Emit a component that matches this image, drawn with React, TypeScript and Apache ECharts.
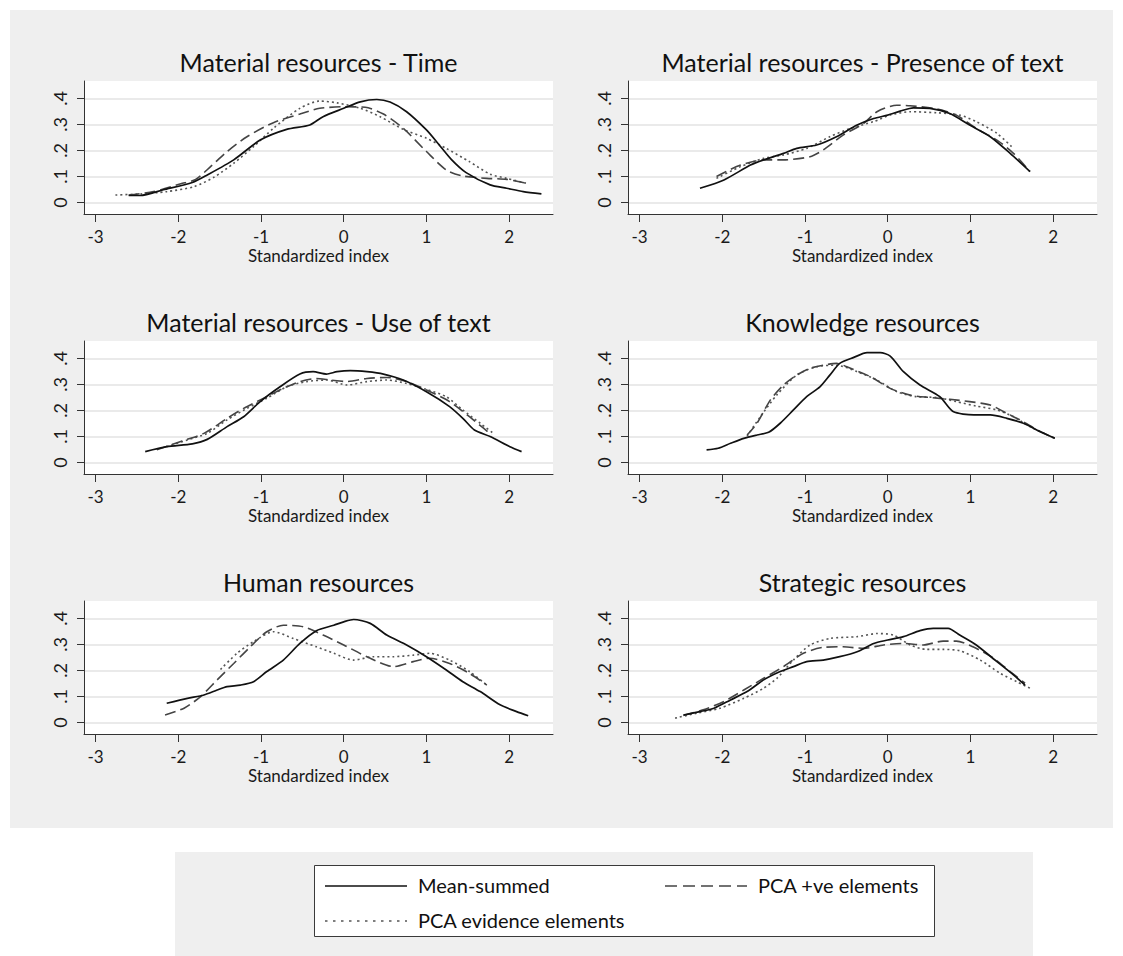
import React, { useEffect, useRef } from "react";
import * as echarts from "echarts";

// Panel titles, in reading order (left-to-right, top-to-bottom)
const panelTitles = [
  "Material resources - Time",
  "Material resources - Presence of text",
  "Material resources - Use of text",
  "Knowledge resources",
  "Human resources",
  "Strategic resources",
];

const xTicks = [-3, -2, -1, 0, 1, 2];
const yTicks = [0, 0.1, 0.2, 0.3, 0.4];
const yTickLabels = ["0", ".1", ".2", ".3", ".4"];
const xAxisTitle = "Standardized index";
const seriesNames = ["Mean-summed", "PCA +ve elements", "PCA evidence elements"];

// Kernel density estimates: [standardized index, density]
const timeMean = [[-2.6, 0.027], [-2.46, 0.027], [-2.18, 0.049], [-1.83, 0.077], [-1.65, 0.106], [-1.33, 0.164], [-1.01, 0.24], [-0.69, 0.281], [-0.41, 0.298], [-0.25, 0.33], [0, 0.362], [0.2, 0.387], [0.4, 0.396], [0.56, 0.386], [0.76, 0.349], [1.0, 0.279], [1.14, 0.227], [1.3, 0.166], [1.48, 0.115], [1.77, 0.068], [1.97, 0.055], [2.17, 0.042], [2.39, 0.033]];
const timePcaPos = [[-2.6, 0.029], [-2.3, 0.042], [-1.97, 0.072], [-1.79, 0.089], [-1.61, 0.138], [-1.41, 0.196], [-1.17, 0.253], [-0.85, 0.307], [-0.53, 0.34], [-0.29, 0.362], [0, 0.368], [0.26, 0.366], [0.48, 0.34], [0.72, 0.285], [1.0, 0.196], [1.24, 0.125], [1.44, 0.102], [1.73, 0.093], [1.97, 0.089], [2.21, 0.074]];
const timePcaEv = [[-2.76, 0.029], [-2.46, 0.033], [-2.14, 0.042], [-1.81, 0.061], [-1.57, 0.097], [-1.33, 0.151], [-1.09, 0.215], [-0.85, 0.285], [-0.53, 0.362], [-0.29, 0.39], [-0.08, 0.383], [0.2, 0.362], [0.44, 0.33], [0.72, 0.281], [1.0, 0.247], [1.24, 0.208], [1.52, 0.157], [1.77, 0.109], [1.97, 0.093], [2.21, 0.074]];

const presenceMean = [[-2.27, 0.055], [-1.98, 0.087], [-1.66, 0.144], [-1.5, 0.164], [-1.26, 0.189], [-1.1, 0.208], [-0.86, 0.221], [-0.62, 0.253], [-0.37, 0.298], [-0.17, 0.323], [0, 0.336], [0.15, 0.351], [0.31, 0.364], [0.51, 0.362], [0.75, 0.342], [0.99, 0.298], [1.24, 0.253], [1.48, 0.189], [1.72, 0.119]];
const presencePcaPos = [[-2.07, 0.1], [-1.78, 0.144], [-1.5, 0.164], [-1.26, 0.164], [-0.94, 0.176], [-0.78, 0.202], [-0.54, 0.259], [-0.29, 0.304], [-0.13, 0.349], [0.11, 0.374], [0.27, 0.372], [0.59, 0.36], [0.83, 0.336], [1.07, 0.285], [1.32, 0.24], [1.52, 0.189], [1.72, 0.119]];
const presencePcaEv = [[-2.07, 0.093], [-1.78, 0.138], [-1.5, 0.17], [-1.26, 0.183], [-0.98, 0.208], [-0.7, 0.253], [-0.45, 0.285], [-0.17, 0.311], [0.03, 0.336], [0.27, 0.349], [0.59, 0.345], [0.87, 0.336], [1.07, 0.311], [1.32, 0.266], [1.52, 0.208]];

const useMean = [[-2.4, 0.042], [-2.14, 0.061], [-1.83, 0.072], [-1.65, 0.089], [-1.41, 0.138], [-1.21, 0.176], [-1.01, 0.234], [-0.77, 0.291], [-0.53, 0.34], [-0.37, 0.349], [-0.21, 0.34], [-0.08, 0.349], [0.08, 0.353], [0.28, 0.349], [0.48, 0.34], [0.72, 0.317], [1.0, 0.272], [1.28, 0.215], [1.44, 0.17], [1.58, 0.125], [1.77, 0.1], [2.01, 0.061], [2.15, 0.042]];
const usePcaPos = [[-2.26, 0.049], [-1.97, 0.081], [-1.69, 0.112], [-1.41, 0.17], [-1.21, 0.208], [-0.93, 0.253], [-0.73, 0.285], [-0.53, 0.311], [-0.33, 0.323], [-0.16, 0.317], [0.04, 0.311], [0.28, 0.323], [0.52, 0.327], [0.76, 0.311], [1.0, 0.279], [1.28, 0.234], [1.52, 0.176], [1.69, 0.132], [1.79, 0.106]];
const usePcaEv = [[-2.14, 0.061], [-1.89, 0.087], [-1.65, 0.112], [-1.41, 0.164], [-1.17, 0.208], [-0.93, 0.247], [-0.69, 0.291], [-0.45, 0.311], [-0.2, 0.317], [0.04, 0.298], [0.28, 0.311], [0.52, 0.317], [0.76, 0.304], [1.0, 0.281], [1.24, 0.253], [1.44, 0.202], [1.65, 0.151], [1.81, 0.112]];

const knowMean = [[-2.19, 0.049], [-2.05, 0.055], [-1.9, 0.074], [-1.74, 0.093], [-1.58, 0.106], [-1.44, 0.116], [-1.3, 0.151], [-1.14, 0.202], [-0.98, 0.253], [-0.82, 0.291], [-0.7, 0.336], [-0.58, 0.381], [-0.41, 0.404], [-0.25, 0.422], [-0.09, 0.422], [0.03, 0.409], [0.19, 0.349], [0.39, 0.298], [0.63, 0.253], [0.79, 0.196], [1.04, 0.183], [1.24, 0.183], [1.44, 0.17], [1.64, 0.151], [1.84, 0.119], [2.02, 0.093]];
const knowPcaPos = [[-1.7, 0.106], [-1.58, 0.151], [-1.42, 0.24], [-1.26, 0.298], [-1.1, 0.336], [-0.94, 0.362], [-0.78, 0.374], [-0.62, 0.381], [-0.45, 0.362], [-0.21, 0.33], [0.03, 0.285], [0.27, 0.259], [0.51, 0.25], [0.75, 0.243], [0.99, 0.234], [1.24, 0.221], [1.44, 0.189], [1.64, 0.157], [1.84, 0.119], [2.02, 0.093]];
const knowPcaEv = [[-1.7, 0.102], [-1.54, 0.176], [-1.34, 0.26], [-1.1, 0.336], [-0.86, 0.368], [-0.62, 0.374], [-0.37, 0.349], [-0.13, 0.317], [0.11, 0.272], [0.35, 0.253], [0.59, 0.25], [0.83, 0.234], [1.07, 0.217], [1.32, 0.202], [1.52, 0.176], [1.72, 0.138], [2.02, 0.093]];

const humanMean = [[-2.14, 0.074], [-1.89, 0.093], [-1.69, 0.106], [-1.53, 0.125], [-1.41, 0.138], [-1.25, 0.144], [-1.09, 0.157], [-0.93, 0.196], [-0.73, 0.24], [-0.53, 0.304], [-0.33, 0.353], [-0.12, 0.374], [0, 0.387], [0.12, 0.396], [0.32, 0.381], [0.52, 0.336], [0.76, 0.298], [1.0, 0.253], [1.24, 0.202], [1.44, 0.157], [1.65, 0.119], [1.89, 0.068], [2.09, 0.042], [2.23, 0.026]];
const humanPcaPos = [[-2.16, 0.029], [-1.93, 0.055], [-1.73, 0.1], [-1.53, 0.164], [-1.33, 0.227], [-1.13, 0.291], [-0.93, 0.349], [-0.73, 0.374], [-0.49, 0.368], [-0.25, 0.336], [0, 0.298], [0.28, 0.253], [0.6, 0.215], [0.84, 0.234], [1.04, 0.247], [1.28, 0.227], [1.52, 0.189], [1.73, 0.144]];
const humanPcaEv = [[-1.49, 0.204], [-1.29, 0.266], [-1.09, 0.311], [-0.85, 0.349], [-0.61, 0.323], [-0.33, 0.291], [-0.12, 0.266], [0.12, 0.24], [0.36, 0.253], [0.6, 0.253], [0.84, 0.259], [1.04, 0.266], [1.28, 0.24], [1.52, 0.196], [1.73, 0.144]];

const stratMean = [[-2.47, 0.029], [-2.27, 0.042], [-2.1, 0.055], [-1.9, 0.087], [-1.7, 0.119], [-1.5, 0.164], [-1.3, 0.196], [-1.14, 0.215], [-0.98, 0.234], [-0.78, 0.24], [-0.58, 0.253], [-0.37, 0.272], [-0.17, 0.304], [0, 0.317], [0.19, 0.33], [0.39, 0.353], [0.55, 0.362], [0.73, 0.362], [0.87, 0.336], [1.07, 0.298], [1.32, 0.234], [1.52, 0.183], [1.66, 0.144]];
const stratPcaPos = [[-2.47, 0.027], [-2.23, 0.049], [-1.98, 0.081], [-1.74, 0.125], [-1.5, 0.17], [-1.26, 0.215], [-1.02, 0.266], [-0.78, 0.289], [-0.54, 0.291], [-0.29, 0.285], [-0.05, 0.298], [0.19, 0.304], [0.43, 0.298], [0.67, 0.313], [0.83, 0.313], [1.03, 0.291], [1.28, 0.247], [1.48, 0.196], [1.66, 0.151]];
const stratPcaEv = [[-2.57, 0.017], [-2.31, 0.036], [-2.03, 0.055], [-1.74, 0.093], [-1.5, 0.132], [-1.34, 0.17], [-1.14, 0.24], [-0.94, 0.298], [-0.7, 0.323], [-0.37, 0.33], [-0.13, 0.342], [0.07, 0.336], [0.27, 0.298], [0.47, 0.281], [0.67, 0.281], [0.87, 0.276], [1.12, 0.24], [1.36, 0.189], [1.56, 0.157], [1.72, 0.132]];

const panelData = [
  [timeMean, timePcaPos, timePcaEv],
  [presenceMean, presencePcaPos, presencePcaEv],
  [useMean, usePcaPos, usePcaEv],
  [knowMean, knowPcaPos, knowPcaEv],
  [humanMean, humanPcaPos, humanPcaEv],
  [stratMean, stratPcaPos, stratPcaEv],
];

const FONT = "Lato, 'Open Sans', sans-serif";
const W = 1123;
const H = 956;

// Panel geometry
const colLeft = [84, 628];
const rowTop = [81, 341, 601];
const plotW = 469;
const plotH = 133;
const xMin = -3.14;
const xMax = 2.53;
const yMin = -0.044;
const yMax = 0.467;

const lineStyles = [
  { color: "#111111", width: 1.7, type: "solid" as const },
  { color: "#444444", width: 1.6, type: [11, 5] as number[] },
  { color: "#555555", width: 1.6, type: [2, 3] as number[] },
];

export default function App() {
  const ref = useRef<HTMLDivElement>(null);

  useEffect(() => {
    document.body.style.margin = "0";
    if (!ref.current) return;
    const chart = echarts.init(ref.current, undefined, { renderer: "svg" });

    const grids: any[] = [];
    const xAxes: any[] = [];
    const yAxes: any[] = [];
    const series: any[] = [];
    const graphics: any[] = [];

    // Outer gray panel holding the six graphs
    graphics.push({
      type: "rect",
      z: -10,
      shape: { x: 10, y: 10, width: 1103, height: 818 },
      style: { fill: "#efefef" },
    });

    panelTitles.forEach((title, i) => {
      const left = colLeft[i % 2];
      const top = rowTop[Math.floor(i / 2)];
      grids.push({
        left,
        top,
        width: plotW,
        height: plotH,
        show: true,
        backgroundColor: "#ffffff",
        borderWidth: 0,
      });
      xAxes.push({
        type: "value",
        gridIndex: i,
        min: xMin,
        max: xMax,
        name: xAxisTitle,
        nameLocation: "middle",
        nameGap: 33,
        nameTextStyle: { fontFamily: FONT, fontSize: 17, color: "#1a1a1a" },
        axisLine: { show: true, onZero: false, lineStyle: { color: "#333333", width: 1 } },
        axisTick: { show: true, length: 8, customValues: xTicks, lineStyle: { color: "#333333" } },
        axisLabel: {
          customValues: xTicks,
          margin: 14,
          fontFamily: FONT,
          fontSize: 17,
          color: "#1a1a1a",
          formatter: (v: number) => String(v),
        },
        splitLine: { show: false },
      });
      yAxes.push({
        type: "value",
        gridIndex: i,
        min: yMin,
        max: yMax,
        axisLine: { show: true, onZero: false, lineStyle: { color: "#333333", width: 1 } },
        axisTick: { show: true, length: 7, customValues: yTicks, lineStyle: { color: "#333333" } },
        axisLabel: {
          customValues: yTicks,
          rotate: 90,
          margin: 15,
          fontFamily: FONT,
          fontSize: 18,
          color: "#1a1a1a",
          formatter: (v: number) => {
            const k = yTicks.findIndex((t) => Math.abs(t - v) < 1e-6);
            return k >= 0 ? yTickLabels[k] : "";
          },
        },
        splitLine: { show: true, lineStyle: { color: "#eaeaea", width: 2 } },
      });
      panelData[i].forEach((data, s) => {
        series.push({
          type: "line",
          name: seriesNames[s],
          xAxisIndex: i,
          yAxisIndex: i,
          data,
          symbol: "none",
          smooth: 0.25,
          lineStyle: lineStyles[s],
          z: 5 - s,
        });
      });
      graphics.push({
        type: "text",
        x: left + plotW / 2,
        y: top - 19,
        style: {
          text: title,
          fontFamily: FONT,
          fontSize: 25,
          fill: "#111111",
          textAlign: "center",
          textVerticalAlign: "middle",
        },
      });
    });

    // Legend block
    graphics.push({
      type: "rect",
      z: -10,
      shape: { x: 175, y: 852, width: 858, height: 104 },
      style: { fill: "#efefef" },
    });
    graphics.push({
      type: "rect",
      shape: { x: 314.5, y: 865.5, width: 620, height: 71 },
      style: { fill: "#ffffff", stroke: "#3a3a3a", lineWidth: 1 },
    });
    const legendItems = [
      { x: 325, y: 886 },
      { x: 665, y: 886 },
      { x: 325, y: 921 },
    ];
    legendItems.forEach((pos, s) => {
      const ls = lineStyles[s];
      graphics.push({
        type: "line",
        shape: { x1: pos.x, y1: pos.y, x2: pos.x + 82, y2: pos.y },
        style: {
          stroke: ls.color,
          lineWidth: 1.7,
          lineDash: s === 0 ? null : s === 1 ? [12, 6] : [2.5, 5.5],
        },
      });
      graphics.push({
        type: "text",
        x: pos.x + 93,
        y: pos.y - 1,
        style: {
          text: seriesNames[s],
          fontFamily: FONT,
          fontSize: 20,
          fill: "#111111",
          textAlign: "left",
          textVerticalAlign: "middle",
        },
      });
    });

    chart.setOption({
      animation: false,
      backgroundColor: "transparent",
      grid: grids,
      xAxis: xAxes,
      yAxis: yAxes,
      series,
      graphic: { elements: graphics },
    });

    return () => chart.dispose();
  }, []);

  return (
    <div
      ref={ref}
      style={{ width: W, height: H, background: "#ffffff" }}
    />
  );
}
